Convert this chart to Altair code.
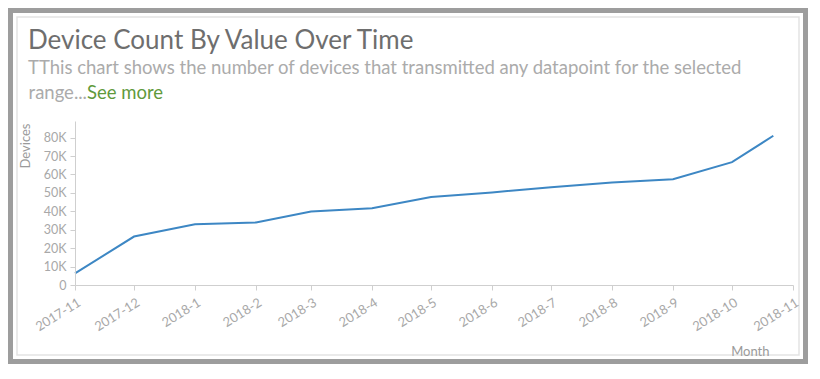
import altair as alt
import pandas as pd

# ---- data ----
months = ["2017-11-01", "2017-12-01", "2018-01-01", "2018-02-01", "2018-03-01",
          "2018-04-01", "2018-05-01", "2018-06-01", "2018-07-01", "2018-08-01",
          "2018-09-01", "2018-10-01", "2018-10-22"]
devices = [6300, 26300, 33000, 33900, 39900, 41700, 47700, 50200, 53100, 55600,
           57400, 66700, 81000]
x_domain = ["2017-11-01", "2018-11-01"]
y_ticks = [0, 10000, 20000, 30000, 40000, 50000, 60000, 70000, 80000]

title_text = "Device Count By Value Over Time"
subtitle_line1 = "TThis chart shows the number of devices that transmitted any datapoint for the selected"
subtitle_line2 = "range..."
link_text = "See more"

df = pd.DataFrame({"Month": months, "Devices": devices})

W, H = 718, 164
PAD_L, PAD_T = 67, 113
SVG_W, SVG_H = 800, 356

one = alt.Data(values=[{}])

line = alt.Chart(df).mark_line(color="#3d87c4", strokeWidth=2).encode(
    x=alt.X("Month:T",
            scale=alt.Scale(type="utc", domain=x_domain),
            axis=alt.Axis(labelExpr="utcFormat(datum.value, '%Y-%-m')",
                          tickCount={"interval": "month", "step": 1},
                          labelAngle=-32, labelAlign="right", labelBaseline="middle",
                          labelPadding=11, labelOffset=4, labelFontSize=13,
                          labelColor="#a8a8a8", labelFont="Lato",
                          domainColor="#cfcfcf", tickColor="#cfcfcf", tickSize=5,
                          grid=False, title="Month", titleFont="Lato",
                          titleFontSize=13, titleFontWeight="normal",
                          titleColor="#9a9a9a", titleX=694, titleY=66,
                          titleAlign="right", titleBaseline="middle",
                          labelOverlap=False, labelFlush=False, zindex=2)),
    y=alt.Y("Devices:Q",
            scale=alt.Scale(domain=[0, 89000], nice=False),
            axis=alt.Axis(values=y_ticks,
                          labelExpr="datum.value == 0 ? '0' : (datum.value / 1000) + 'K'",
                          labelFontSize=12.5, labelColor="#a8a8a8", labelFont="Lato",
                          labelPadding=4, domainColor="#cfcfcf", tickColor="#cfcfcf",
                          tickSize=5, grid=False, title="Devices", titleFont="Lato",
                          titleFontSize=13, titleFontWeight="normal",
                          titleColor="#9a9a9a", titleAngle=270, titleX=-50, titleY=2,
                          titleAlign="right", titleBaseline="middle", zindex=2)),
)

outer = alt.Chart(one).mark_rect(fill="transparent", stroke="#9d9d9d", strokeWidth=5).encode(
    x=alt.value(2.5 - PAD_L), x2=alt.value(SVG_W - 2.5 - PAD_L),
    y=alt.value(2.5 - PAD_T), y2=alt.value(SVG_H - 2.5 - PAD_T))

card = alt.Chart(one).mark_rect(fill="transparent", stroke="#e3e3e3", strokeWidth=1.5).encode(
    x=alt.value(9 - PAD_L), x2=alt.value(SVG_W - 9 - PAD_L),
    y=alt.value(9 - PAD_T), y2=alt.value(SVG_H - 9 - PAD_T))

title = alt.Chart(one).mark_text(align="left", baseline="alphabetic", font="Lato",
                                 fontSize=26, color="#6e6e6e").encode(
    x=alt.value(28 - 75), y=alt.value(49 - 121), text=alt.value(title_text))

sub1 = alt.Chart(one).mark_text(align="left", baseline="alphabetic", font="Lato",
                                fontSize=18.5, color="#ababab").encode(
    x=alt.value(28 - 75), y=alt.value(74 - 121), text=alt.value(subtitle_line1))

sub2 = alt.Chart(one).mark_text(align="right", baseline="alphabetic", font="Lato",
                                fontSize=18.5, color="#ababab").encode(
    x=alt.value(87 - 75), y=alt.value(99 - 121), text=alt.value(subtitle_line2))

link = alt.Chart(one).mark_text(align="left", baseline="alphabetic", font="Lato",
                                fontSize=18.5, color="#5f9a3c").encode(
    x=alt.value(87 - 75), y=alt.value(99 - 121), text=alt.value(link_text))

chart = alt.layer(outer, card, title, sub1, sub2, link, line).properties(
    width=W, height=H,
    padding={"left": PAD_L, "top": PAD_T, "right": SVG_W - PAD_L - W,
             "bottom": SVG_H - PAD_T - H},
    autosize=alt.AutoSizeParams(type="none"),
    background="white",
).configure(font="Lato").configure_view(stroke="transparent", strokeWidth=0)

chart.save("out.html", embed_options={"renderer": "svg", "actions": False})
